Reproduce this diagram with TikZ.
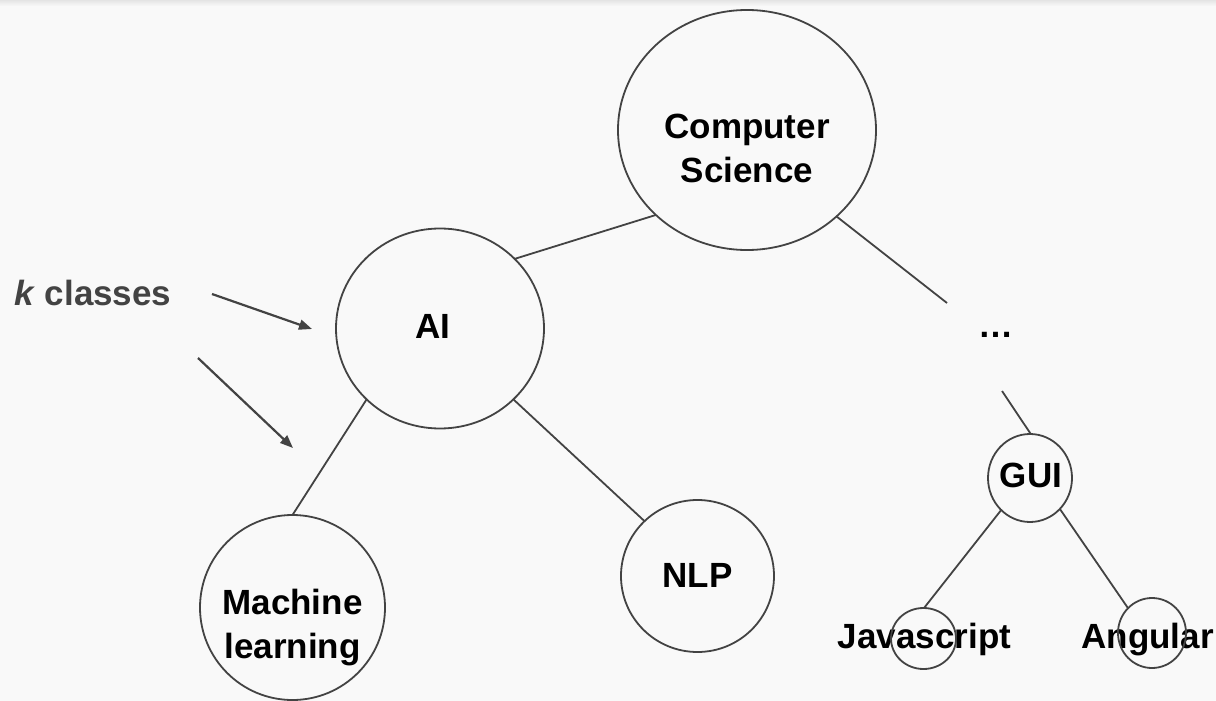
\documentclass[tikz,border=0pt]{standalone}
\usepackage{fontspec}
\setmainfont{Liberation Sans}
\usetikzlibrary{shapes.geometric,arrows.meta}
\definecolor{bg}{HTML}{F9F9F9}
\definecolor{ln}{HTML}{434343}
\definecolor{shd}{HTML}{E4E4E4}
\begin{document}
\begin{tikzpicture}[x=1pt,y=-1pt,
  circ/.style={draw=ln, line width=1.8pt, ellipse, inner sep=0pt, outer sep=0pt},
  lbl/.style={font=\fontsize{35}{44}\selectfont\bfseries, text=black, inner sep=0pt, anchor=base, align=center},
  edge/.style={draw=ln, line width=1.8pt},
  arr/.style={draw=ln, line width=2.2pt, -{Triangle[length=13pt,width=10pt]}}]
\useasboundingbox (0,0) rectangle (1216,701);
\fill[bg] (0,0) rectangle (1216,701);
\shade[top color=shd, bottom color=bg] (0,0) rectangle (1216,6);
% labels
\node[lbl] (tcs) at (747,182) {Computer\\Science};
\node[lbl] (tai) at (432.5,338) {AI};
\node[lbl] (tml) at (292.5,658) {Machine\\learning};
\node[lbl] (tnlp) at (697.5,587) {NLP};
\node[lbl] (tgui) at (1031,487) {GUI};
\node[lbl] (tjs) at (924.5,648) {Javascript};
\node[lbl] (tang) at (1147.5,648) {Angular};
\node[lbl] (dots) at (996,337) {…};
\node[lbl, text=ln, anchor=base west] (kc) at (14,305) {\textit{k} classes};
% circles
\node[circ, minimum width=258pt, minimum height=240pt] (cs) at (747,130) {};
\node[circ, minimum width=208pt, minimum height=200pt] (ai) at (440,328.5) {};
\node[circ, minimum width=185pt, minimum height=185pt] (ml) at (292.5,607.5) {};
\node[circ, minimum width=153pt, minimum height=152pt] (nlp) at (697.5,576) {};
\node[circ, minimum width=84pt, minimum height=88pt] (gui) at (1030,478) {};
\node[circ, minimum width=65pt, minimum height=61pt] (js) at (923.5,638.5) {};
\node[circ, minimum width=68pt, minimum height=70pt] (ang) at (1152,633) {};
% free ends
\coordinate (e1) at (947,303);
\coordinate (d2) at (1002,391);
\coordinate (k1s) at (212,294);
\coordinate (k1e) at (312,329);
\coordinate (k2s) at (198,358);
\coordinate (k2e) at (293,448);
% edges
\draw[edge] (cs.223) -- (ai.43);
\draw[edge] (cs.316) -- (e1);
\draw[edge] (d2) -- (gui.89);
\draw[edge] (ai.224) -- (ml.90);
\draw[edge] (ai.316) -- (nlp.134);
\draw[edge] (gui.228) -- (js.89);
\draw[edge] (gui.314) -- (ang.134);
\draw[arr] (k1s) -- (k1e);
\draw[arr] (k2s) -- (k2e);
\end{tikzpicture}
\end{document}
